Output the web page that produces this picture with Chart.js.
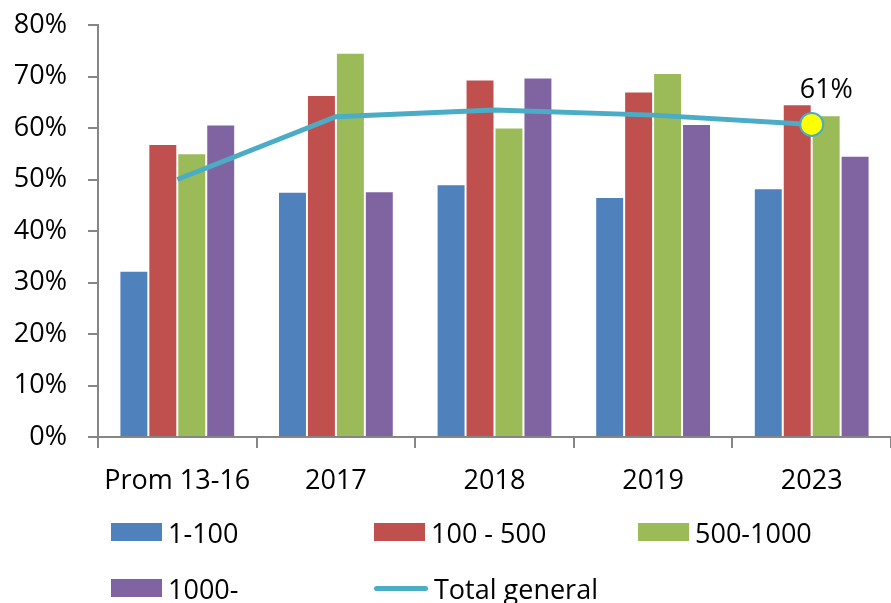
<!DOCTYPE html>
<html>
<head>
<meta charset="utf-8">
<script src="https://cdn.jsdelivr.net/npm/chart.js@4.4.1/dist/chart.umd.min.js"></script>
<style>
  html, body { margin: 0; padding: 0; background: #fff; }
  #wrap { position: relative; width: 891px; height: 603px; overflow: hidden; }
  #legend {
    position: absolute; left: 111px; top: 516px;
    display: grid; grid-template-columns: 263px 264px auto;
    row-gap: 24px;
    font-family: 'Open Sans', sans-serif; font-size: 27px; color: #000;
  }
  .item { display: flex; align-items: center; height: 32px; white-space: nowrap; }
  .box { width: 51px; height: 18px; margin-right: 6px; }
  .line { width: 54px; height: 5px; border-radius: 3px; margin-right: 6px; }
</style>
</head>
<body>
<div id="wrap">
  <canvas id="chart" width="891" height="603"></canvas>
  <div id="legend"></div>
</div>
<script>
// Chart data
const categories = ['Prom 13-16', '2017', '2018', '2019', '2023'];
const s1_100 = [32.3, 47.6, 49.1, 46.6, 48.3];
const s100_500 = [56.9, 66.4, 69.4, 67.1, 64.6];
const s500_1000 = [55.1, 74.6, 60.1, 70.7, 62.5];
const s1000 = [60.7, 47.7, 69.8, 60.8, 54.6];
const totalGeneral = [50.0, 62.2, 63.5, 62.5, 60.7];
const yTicks = [0, 10, 20, 30, 40, 50, 60, 70, 80];

Chart.defaults.font.family = "'Open Sans', sans-serif";
Chart.defaults.font.size = 27;
Chart.defaults.color = '#000';

const axisGray = '#868686';
const lastIdx = totalGeneral.length - 1;

// label only on the last point of the total line
const lastLabel = {
  id: 'lastLabel',
  afterDatasetsDraw(chart) {
    const meta = chart.getDatasetMeta(4);
    const pt = meta.data[lastIdx];
    const ctx = chart.ctx;
    ctx.save();
    ctx.font = "27px 'Open Sans', sans-serif";
    ctx.fillStyle = '#000';
    ctx.textAlign = 'left';
    ctx.textBaseline = 'alphabetic';
    ctx.fillText(Math.round(totalGeneral[lastIdx]) + '%', pt.x - 12, pt.y - 26);
    ctx.restore();
  }
};

function bar(label, data, color) {
  return {
    type: 'bar',
    label: label,
    data: data,
    backgroundColor: color,
    borderColor: 'rgba(255,255,255,0.35)',
    borderWidth: 1,
    barPercentage: 1,
    categoryPercentage: 0.73,
    order: 1
  };
}

const chart = new Chart(document.getElementById('chart'), {
  data: {
    labels: categories,
    datasets: [
      bar('1-100', s1_100, '#4F81BD'),
      bar('100 - 500', s100_500, '#C0504D'),
      bar('500-1000', s500_1000, '#9BBB59'),
      bar('1000-', s1000, '#8064A2'),
      {
        type: 'line',
        label: 'Total general',
        data: totalGeneral,
        borderColor: '#4BACC6',
        borderWidth: 5,
        tension: 0,
        pointRadius: (c) => c.dataIndex === lastIdx ? 11.5 : 0,
        pointBackgroundColor: '#FFFF00',
        pointBorderColor: '#4BACC6',
        pointBorderWidth: 2,
        order: 0
      }
    ]
  },
  options: {
    responsive: false,
    animation: false,
    layout: { autoPadding: false, padding: { top: 25, right: 0, bottom: 100, left: 0 } },
    plugins: {
      legend: { display: false },
      tooltip: { enabled: false }
    },
    scales: {
      x: {
        grid: { drawOnChartArea: false, color: axisGray, lineWidth: 2, tickLength: 11, offset: true },
        border: { color: axisGray, width: 2 },
        ticks: { padding: 17, maxRotation: 0 },
        afterFit: (s) => { s.height = 66; s.paddingLeft = 0; s.paddingRight = 0; }
      },
      y: {
        min: 0,
        max: 80,
        afterBuildTicks: (s) => { s.ticks = yTicks.map(v => ({ value: v })); },
        grid: { drawOnChartArea: false, color: axisGray, lineWidth: 2, tickLength: 10 },
        border: { color: axisGray, width: 2 },
        ticks: { padding: 21, callback: (v) => v + '%' },
        afterFit: (s) => { s.width = 98; s.paddingTop = 0; s.paddingBottom = 0; }
      }
    }
  },
  plugins: [lastLabel]
});

// HTML legend built from the datasets
const legendEl = document.getElementById('legend');
chart.data.datasets.forEach(ds => {
  const item = document.createElement('div');
  item.className = 'item';
  const sw = document.createElement('span');
  if (ds.type === 'line') {
    sw.className = 'line';
    sw.style.background = ds.borderColor;
  } else {
    sw.className = 'box';
    sw.style.background = ds.backgroundColor;
  }
  item.appendChild(sw);
  item.appendChild(document.createTextNode(ds.label));
  legendEl.appendChild(item);
});
</script>
</body>
</html>
